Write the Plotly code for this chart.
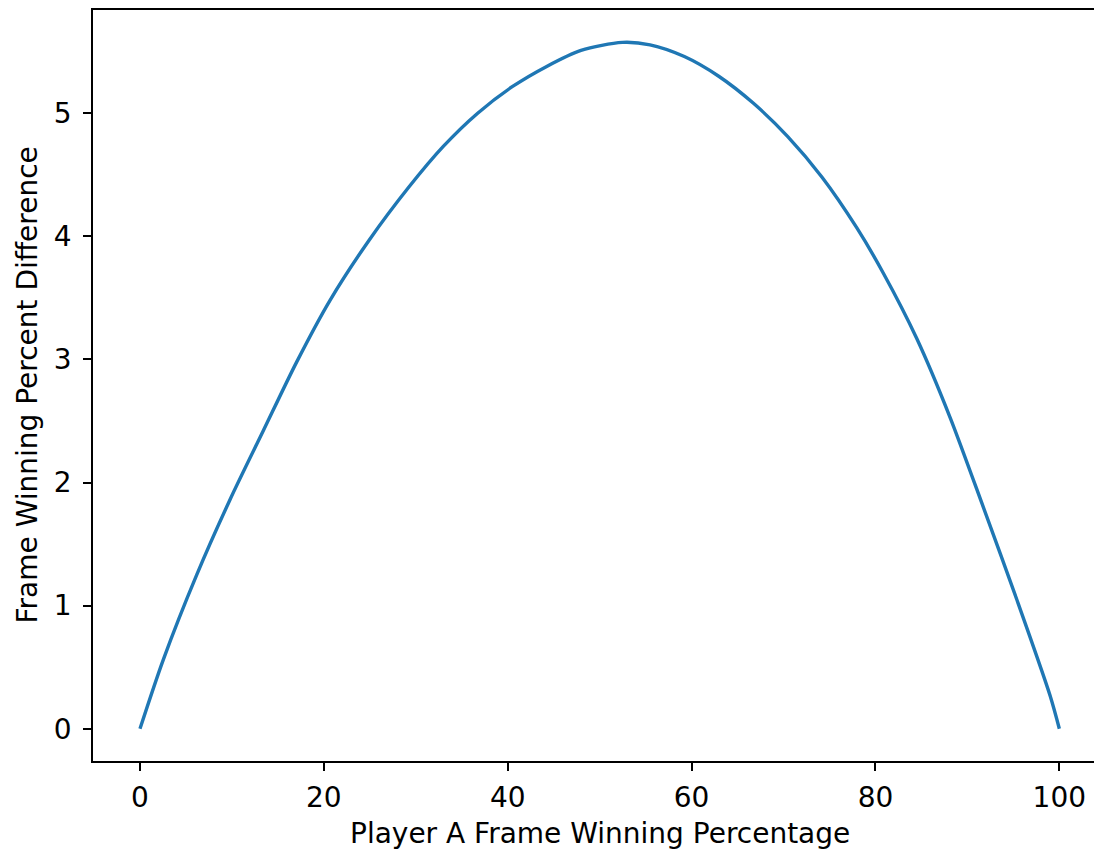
import plotly.graph_objects as go

# Values
win_pct = [0, 2.53, 6.17, 9.79, 13.41, 17.05, 20.67, 24.94, 29.25, 32.99, 36.73, 40.49,
           44.24, 47.97, 52.47, 55.48, 59.21, 62.95, 66.73, 70.46, 74.19, 77.96, 80.86,
           84.49, 88.11, 91.73, 95.37, 98.99, 100]
pct_diff = [0, 0.56, 1.25, 1.86, 2.42, 2.98, 3.48, 3.97, 4.40, 4.73, 5.00, 5.215,
            5.38, 5.51, 5.575, 5.555, 5.46, 5.30, 5.08, 4.81, 4.48, 4.07, 3.70,
            3.17, 2.53, 1.80, 1.05, 0.27, 0]

x_ticks = [0, 20, 40, 60, 80, 100]
y_ticks = [0, 1, 2, 3, 4, 5]
x_title = "Player A Frame Winning Percentage"
y_title = "Frame Winning Percent Difference"

font = dict(family="DejaVu Sans", size=28, color="black")

fig = go.Figure()
fig.add_trace(go.Scatter(x=win_pct, y=pct_diff, mode="lines",
                         line=dict(color="#1f77b4", width=3.4, shape="spline", smoothing=0.8),
                         showlegend=False, hoverinfo="skip"))

axis_common = dict(showgrid=False, zeroline=False, showline=True, linecolor="black",
                   linewidth=1.8, ticks="outside", ticklen=8, tickwidth=1.8,
                   tickcolor="black", tickfont=font)

fig.update_xaxes(range=[-5.11, 103.77], tickvals=x_ticks, mirror=True,
                 ticklabelstandoff=2, **axis_common)
fig.update_yaxes(range=[-0.262, 5.838], tickvals=y_ticks, ticklabelstandoff=6,
                 **axis_common)

fig.add_annotation(text=x_title, xref="x", yref="paper", x=50, y=0, yshift=-72,
                   showarrow=False, font=font, xanchor="center", yanchor="middle")
fig.add_annotation(text=y_title, xref="paper", yref="paper", x=0, y=0.5, xshift=-66,
                   textangle=-90, showarrow=False, font=font,
                   xanchor="center", yanchor="middle")

fig.update_layout(width=1094, height=851, paper_bgcolor="white", plot_bgcolor="white",
                  margin=dict(l=93, r=0, t=10, b=90), font=font)

fig.write_html("out.html", config={"displayModeBar": False},
               post_script="document.body.style.margin='0';"
                           "document.body.style.overflow='hidden';")
